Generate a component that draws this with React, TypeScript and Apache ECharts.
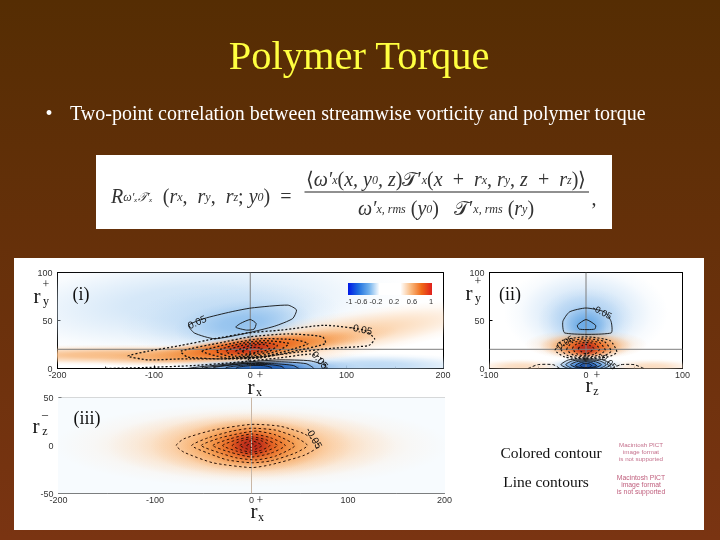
import React, { useEffect, useRef } from "react";
import * as echarts from "echarts";

type P = [number, number][];
// colour field: [centre x, centre y, half width, half height, tilt in degrees, colour]
type B = [number, number, number, number, number, string];

// ---- panel (i): r_x, r_y
const iBlueField: B[] = [
  [-60, 68, 230, 56, 3, "#cfe4f7"],
  [-20, 52, 115, 36, 5, "#bcd9f4"],
  [-8, 47, 72, 24, 6, "#93c2ee"],
  [125, 3, 125, 13, 0, "#bcd9f4"],
  [15, 1, 100, 11, 0, "#4f93de"],
  [12, 1, 55, 8, 0, "#1f5cb5"],
];
const iOrangeField: B[] = [
  [-120, 14, 230, 11, 0, "#f8b97f"],
  [95, 35, 170, 24, 9, "#fbd3ac"],
  [50, 27, 105, 14, 7, "#f8ad6c"],
  [-20, 19, 140, 12, 5, "#f59a4c"],
  [0, 22, 110, 13, 6, "#ef7c25"],
  [-2, 22, 72, 11, 6, "#e8591a"],
  [0, 21, 38, 9, 5, "#c4301a"],
];
const iSolid: P[] = [
  [[-64, 45], [-48, 52], [-20, 59], [1, 63], [39, 66], [48, 61], [44, 52], [25, 44], [-3, 37], [-37, 31], [-58, 37]],
  [[-15, 43], [-10, 47], [0, 51], [6, 47], [4, 41], [-4, 40]],
  [[-65, 0], [-30, 4], [0, 7], [30, 9], [62, 8], [78, 3], [78, -3], [-65, -3]],
  [[-52, 0], [-10, 5], [30, 7], [58, 5], [66, 0], [60, -3], [-52, -3]],
  [[-38, 1], [-5, 5], [25, 5], [45, 3], [52, -2], [-38, -2]],
  [[-25, 1], [-2, 4], [20, 4], [33, 2], [36, -2], [-25, -2]],
  [[-14, 1], [0, 3], [14, 3], [22, 1], [22, -2], [-14, -2]],
];
const iDashed: P[] = [
  [[-127, 13], [-106, 18], [-72, 24], [-37, 31], [-3, 37], [32, 40], [77, 45], [118, 40], [129, 31], [123, 24], [84, 21], [49, 17], [10, 12], [-30, 10], [-72, 10], [-106, 9]],
  [[-72, 18], [-30, 27], [0, 33], [40, 36], [75, 33], [78, 26], [50, 19], [10, 11], [-30, 10], [-65, 12]],
  [[-50, 18], [-20, 26], [10, 31], [45, 30], [60, 26], [40, 19], [10, 12], [-25, 11]],
  [[-35, 18], [-10, 26], [15, 29], [40, 26], [30, 19], [5, 12], [-20, 12]],
  [[-25, 18], [-5, 25], [15, 27], [28, 24], [20, 18], [2, 13], [-15, 13]],
  [[-15, 18], [0, 24], [15, 25], [20, 21], [8, 16], [-8, 14]],
  [[-8, 18], [2, 22], [12, 21], [6, 17], [-3, 15]],
];
const iDashedOpen: P[] = [
  [[-150, 0], [-110, 1], [-60, 3], [-20, 6], [30, 11], [62, 15], [72, 12], [78, 4], [80, 0]],
  [[-3, 4], [-2, 9], [-1, 14], [0, 18]],
];

// ---- panel (ii): r_z, r_y
const iiBlueField: B[] = [
  [0, 58, 85, 52, 0, "#c7dff6"],
  [0, 50, 50, 34, 0, "#a5cbf0"],
  [0, 45, 27, 22, 0, "#6aaae6"],
];
const iiOrangeField: B[] = [
  [-68, 2, 50, 8, 0, "#fbdcc0"],
  [68, 2, 50, 8, 0, "#fbdcc0"],
  [0, 25, 64, 16, 0, "#f9bd85"],
  [0, 23, 48, 14, 0, "#f28a34"],
  [0, 22, 32, 12, 0, "#e4521a"],
  [0, 21, 16, 9, 0, "#b92a1c"],
];
const iiLowerField: B[] = [
  [0, 3, 42, 9, 0, "#7db5ea"],
  [0, 3, 28, 8, 0, "#3f82d6"],
  [0, 2, 16, 6, 0, "#1a4fa5"],
];
const iiSolid: P[] = [
  [[0, 63], [19, 59], [26, 49], [26, 37], [-22, 37], [-24, 49], [-17, 59]],
  [[0, 51], [10, 45], [9, 41], [-7, 41], [-9, 45]],
  [[-26, 4], [-18, 9], [0, 10], [18, 9], [26, 4], [18, 0], [0, -1], [-18, 0]],
  [[-21, 4], [-14, 8], [0, 9], [14, 8], [21, 4], [14, 0], [0, -1], [-14, 0]],
  [[-16, 4], [-10, 7], [0, 8], [10, 7], [16, 4], [10, 1], [0, 0], [-10, 1]],
  [[-11, 3], [-6, 6], [0, 7], [6, 6], [11, 3], [6, 1], [0, 0], [-6, 1]],
  [[-6, 3], [-3, 5], [0, 5], [3, 5], [6, 3], [3, 1], [0, 1], [-3, 1]],
];
const iiDashed: P[] = [
  [[-32, 19], [-25, 29], [0, 33], [25, 29], [32, 17], [22, 12], [0, 10], [-22, 12]],
  [[-26, 20], [-19, 28], [0, 31], [19, 28], [26, 18], [18, 13], [0, 11], [-18, 13]],
  [[-20, 20], [-14, 27], [0, 29], [14, 27], [20, 19], [13, 14], [0, 12], [-13, 14]],
  [[-14, 21], [-9, 26], [0, 27], [9, 26], [14, 20], [9, 15], [0, 13], [-9, 15]],
  [[-8, 21], [-4, 24], [0, 25], [4, 24], [8, 21], [4, 17], [0, 15], [-4, 17]],
];
const iiDashedOpen: P[] = [
  [[-60, 0], [-50, 4], [-34, 4], [-27, 0]],
  [[27, 0], [36, 4], [50, 4], [60, 0]],
  [[-1, 8], [-1, 13], [0, 18]],
];

// ---- panel (iii): r_x, r_z
const iiiBack: P[] = [[[-215, -65], [215, -65], [215, 65], [-215, 65]]];
const iiiOrangeField: B[] = [
  [0, 0, 205, 44, 0, "#fde0c4"],
  [0, 0, 150, 38, 0, "#fbc896"],
  [0, 0, 105, 34, 0, "#f8a860"],
  [0, 0, 75, 28, 0, "#f08a30"],
  [0, 0, 48, 22, 0, "#e0501a"],
  [0, 0, 25, 16, 0, "#b92a1c"],
];
const iiiDashed: P[] = [
  [[-78, 0], [-70, 7], [-40, 16], [0, 22], [30, 20], [55, 12], [70, 0], [55, -10], [20, -20], [0, -23], [-40, -18], [-70, -7]],
  [[-62, 0], [-45, 8], [-20, 15], [0, 18], [25, 16], [45, 9], [58, 0], [45, -8], [20, -16], [0, -18], [-25, -15], [-45, -8]],
  [[-52, 0], [-32, 8], [-10, 13], [5, 15], [25, 11], [45, 0], [25, -11], [5, -15], [-15, -13], [-32, -8]],
  [[-40, 0], [-22, 7], [0, 12], [20, 8], [35, 0], [20, -8], [0, -12], [-22, -7]],
  [[-30, 0], [-15, 6], [0, 9], [15, 6], [27, 0], [15, -6], [0, -9], [-15, -6]],
  [[-20, 0], [-10, 5], [0, 7], [10, 5], [19, 0], [10, -5], [0, -7], [-10, -5]],
  [[-12, 0], [-6, 3], [0, 5], [6, 3], [11, 0], [6, -3], [0, -5], [-6, -3]],
  [[-5, 0], [0, 2], [5, 0], [0, -2]],
];

// ---- axes
const xTicksRange = [-200, 200];
const zTicksRange = [-100, 100];
const yRange = [0, 100];
const zRange = [-50, 50];
const iCross: P[] = [[[-200, 20], [200, 20]], [[0, 0], [0, 100]]];
const iiCross: P[] = [[[-100, 20], [100, 20]], [[0, 0], [0, 100]]];
const iiiCross: P[] = [[[0, -50], [0, 50]]];

// ---- colour bar + texts
const barStops = ["#0018e6", "#1e6fe0", "#6fb0ec", "#ffffff", "#ffffff", "#ffffff", "#f9b97f", "#f06a18", "#e0201c"];
const barLabels = ["-1", "-0.6", "-0.2", "0.2", "0.6", "1"];
const TITLE = "Polymer Torque";
const BULLET = "Two-point correlation between streamwise vorticity and polymer torque";
const LEGEND_A = "Colored contour";
const LEGEND_B = "Line contours";
const PICT = ["Macintosh PICT", "image format", "is not supported"];
const FALLOFF: [number, number][] = [[0, 1], [0.3, 0.85], [0.55, 0.5], [0.8, 0.14], [1, 0]];

const SERIF = '"Liberation Serif", serif';
const SANS = '"Liberation Sans", sans-serif';

type Sh =
  | { kind: "blob"; b: B }
  | { kind: "poly"; pts: P; fill?: string; stroke?: string; lw?: number; dash?: number[]; closed: boolean; smooth: number };
const blobs = (bs: B[]): Sh[] => bs.map((b) => ({ kind: "blob", b }));
const fills = (ps: P[], col: string): Sh[] => ps.map((pts) => ({ kind: "poly", pts, fill: col, closed: true, smooth: 0 }));
const lines = (ps: P[], dash: number[] | null, lw: number, closed: boolean, stroke = "#111"): Sh[] =>
  ps.map((pts) => ({ kind: "poly", pts, stroke, lw, dash: dash || undefined, closed, smooth: 0.2 }));
const straight = (ps: P[], stroke: string): Sh[] => ps.map((pts) => ({ kind: "poly", pts, stroke, lw: 1, closed: false, smooth: 0 }));

function shapeSeries(idx: number, shapes: Sh[]) {
  return {
    type: "custom",
    xAxisIndex: idx,
    yAxisIndex: idx,
    clip: true,
    silent: true,
    data: shapes.map((_, i) => [i]),
    renderItem: (params: any, api: any) => {
      const s = shapes[params.dataIndex];
      if (s.kind === "blob") {
        const [cx, cy, rx, ry, tilt, color] = s.b;
        const c = api.coord([cx, cy]);
        const sz = api.size([rx, ry]);
        return {
          type: "rect",
          x: c[0],
          y: c[1],
          rotation: (tilt * Math.PI) / 180,
          shape: { x: -sz[0], y: -sz[1], width: 2 * sz[0], height: 2 * sz[1] },
          style: {
            fill: {
              type: "radial",
              x: 0.5,
              y: 0.5,
              r: 0.5,
              colorStops: FALLOFF.map(([offset, a]) => ({ offset, color: echarts.color.modifyAlpha(color, a) })),
            },
          },
        };
      }
      return {
        type: s.closed ? "polygon" : "polyline",
        shape: { points: s.pts.map((p) => api.coord(p)), smooth: s.smooth },
        style: { fill: s.fill || "none", stroke: s.stroke || "none", lineWidth: s.lw || 0, lineDash: s.dash },
      };
    },
  };
}

const labelStyle = { show: true, fontFamily: SANS, fontSize: 9, color: "#333", hideOverlap: false, showMinLabel: true, showMaxLabel: true };

function xAxis(idx: number, range: number[]) {
  return {
    type: "value",
    gridIndex: idx,
    min: range[0],
    max: range[1],
    interval: 100,
    axisLine: { show: true, lineStyle: { color: "#000", width: 1 }, onZero: false },
    axisTick: { show: true, inside: true, length: 3, lineStyle: { color: "#000" } },
    minorTick: { show: true, splitNumber: 2, length: 2, lineStyle: { color: "#333" } },
    splitLine: { show: false },
    axisLabel: { ...labelStyle, margin: 2 },
  };
}
function yAxis(idx: number, range: number[]) {
  return {
    type: "value",
    gridIndex: idx,
    min: range[0],
    max: range[1],
    interval: 50,
    axisLine: { show: true, lineStyle: { color: "#000", width: 1 }, onZero: false },
    axisTick: { show: true, inside: true, length: 3, lineStyle: { color: "#000" } },
    minorTick: { show: false },
    splitLine: { show: false },
    axisLabel: { ...labelStyle, margin: 5 },
  };
}
const frame = (a: any, position: string, color = "#000") => ({
  ...a,
  position,
  axisLine: { show: true, lineStyle: { color, width: 1 }, onZero: false },
  axisLabel: { show: false },
  minorTick: { show: false },
  axisTick: { show: false },
});

const T = (text: string, x: number, y: number, fontSize: number, extra: any = {}, rot = 0) => ({
  type: "text",
  x,
  y,
  rotation: (rot * Math.PI) / 180,
  z: 20,
  silent: true,
  style: { text, fontFamily: SERIF, fontSize, fill: "#111", align: "center", verticalAlign: "middle", ...extra },
});

function axisSym(x: number, y: number, sup: string, sub: string, subDx = 9, supDx = 9, supDy = -12, subDy = 5) {
  return [T("r", x, y, 21), T(sup, x + supDx, y + supDy, 12), T(sub, x + subDx, y + subDy, 12)];
}

const richStyles = {
  it: { fontFamily: SERIF, fontStyle: "italic", fontSize: 20, fill: "#333", verticalAlign: "middle", height: 26 },
  n: { fontFamily: SERIF, fontSize: 20, fill: "#333", verticalAlign: "middle", height: 26 },
  sub: { fontFamily: SERIF, fontStyle: "italic", fontSize: 12, fill: "#333", verticalAlign: "bottom", height: 24 },
};
const LHS = "{it|R}{sub|ω′ₓ𝒯′ₓ}{n|  (}{it|r}{sub|x}{n|,  }{it|r}{sub|y}{n|,  }{it|r}{sub|z}{n|; }{it|y}{sub|0}{n|)  =}";
const NUM = "{n|⟨}{it|ω′}{sub|x}{n|(}{it|x, y}{sub|0}{it|, z}{n|)}{n|𝒯′}{sub|x}{n|(}{it|x}{n|  +  }{it|r}{sub|x}{n|, }{it|r}{sub|y}{n|, }{it|z}{n|  +  }{it|r}{sub|z}{n|)⟩}";
const DEN = "{it|ω′}{sub|x, rms}{n| (}{it|y}{sub|0}{n|)   }{n|𝒯′}{sub|x, rms}{n| (}{it|r}{sub|y}{n|)}";

export default function App() {
  const ref = useRef<HTMLDivElement>(null);
  useEffect(() => {
    const chart = echarts.init(ref.current!, null, { renderer: "svg" });
    const bgRects = [
      { type: "rect", shape: { x: 14, y: 258, width: 690, height: 272 }, style: { fill: "#ffffff" }, z: -10, silent: true },
      { type: "rect", shape: { x: 96, y: 155, width: 516, height: 74 }, style: { fill: "#ffffff" }, z: -10, silent: true },
      { type: "rect", shape: { x: 304.5, y: 191.5, width: 284.5, height: 1 }, style: { fill: "#222" }, z: 5, silent: true },
    ];
    const pictLines = PICT.flatMap((s, i) => [
      T(s, 641, 444 + i * 7, 6.2, { fontFamily: SANS, fill: "#c4708c" }),
      T(s, 641, 477 + i * 7, 6.8, { fontFamily: SANS, fill: "#c0607e" }),
    ]);
    const option: any = {
      animation: false,
      backgroundColor: {
        type: "linear", x: 0, y: 0, x2: 0, y2: 1,
        colorStops: [{ offset: 0, color: "#552d03" }, { offset: 1, color: "#7a3412" }],
      },
      grid: [
        { left: 57.5, top: 272.5, width: 385.5, height: 96, show: false },
        { left: 489.5, top: 272.5, width: 193, height: 96, show: false },
        { left: 58.5, top: 397.5, width: 386, height: 96, show: false },
      ],
      xAxis: [
        xAxis(0, xTicksRange), xAxis(1, zTicksRange), xAxis(2, xTicksRange),
        frame(xAxis(0, xTicksRange), "top"),
        frame(xAxis(1, zTicksRange), "top"),
        frame(xAxis(2, xTicksRange), "top", "#b5b5b5"),
      ],
      yAxis: [
        yAxis(0, yRange), yAxis(1, yRange), yAxis(2, zRange),
        frame(yAxis(0, yRange), "right"),
        frame(yAxis(1, yRange), "right"),
        frame(yAxis(2, zRange), "right", "#9a9a9a"),
      ],
      series: [
        shapeSeries(0, [
          ...blobs(iBlueField),
          ...blobs(iOrangeField),
          ...straight(iCross, "#7d7d7d"),
          ...lines(iSolid, null, 0.9, true),
          ...lines(iDashed, [2, 2], 1.3, true),
          ...lines(iDashedOpen, [2, 2], 1.3, false),
        ]),
        shapeSeries(1, [
          ...blobs(iiBlueField),
          ...blobs(iiOrangeField),
          ...blobs(iiLowerField),
          ...straight(iiCross, "#7d7d7d"),
          ...lines(iiSolid, null, 0.9, true),
          ...lines(iiDashed, [2, 2], 1.1, true),
          ...lines(iiDashedOpen, [3, 2], 1, false),
        ]),
        shapeSeries(2, [
          ...fills(iiiBack, "#f7fbfe"),
          ...blobs(iiiOrangeField),
          ...straight(iiiCross, "#c9b7a6"),
          ...lines(iiiDashed, [2.5, 2.5], 1, true, "#2a1208"),
        ]),
      ],
      graphic: {
        elements: [
          ...bgRects,
          T(TITLE, 359, 55, 40.5, { fill: "#ffff40" }),
          T("•", 49, 113, 20, { fill: "#ffffff" }),
          T(BULLET, 70, 113, 20, { fill: "#ffffff", align: "left" }),
          {
            type: "text", x: 111, y: 196, z: 20, silent: true,
            style: { rich: richStyles, text: LHS, align: "left", verticalAlign: "middle" },
          },
          {
            type: "text", x: 446, y: 179, z: 20, silent: true,
            style: { rich: richStyles, text: NUM, align: "center", verticalAlign: "middle" },
          },
          {
            type: "text", x: 446, y: 208, z: 20, silent: true,
            style: { rich: richStyles, text: DEN, align: "center", verticalAlign: "middle" },
          },
          T(",", 594, 198, 20, { fill: "#333" }),
          T("(i)", 81, 294, 18),
          T("(ii)", 510, 294, 18),
          T("(iii)", 87, 418, 18),
          ...axisSym(37, 296, "+", "y"),
          ...axisSym(469, 293, "+", "y"),
          ...axisSym(36, 426, "–", "z"),
          ...axisSym(251, 387, "+", "x", 8, 9, -12, 5),
          ...axisSym(589, 385, "+", "z", 7, 8, -10, 6),
          ...axisSym(254, 511, "+", "x", 7, 6, -11, 6),
          {
            type: "rect", z: 15, silent: true,
            shape: { x: 348, y: 283, width: 84, height: 12 },
            style: {
              fill: {
                type: "linear", x: 0, y: 0, x2: 1, y2: 0,
                colorStops: barStops.map((color, i) => ({ offset: i / (barStops.length - 1), color })),
              },
            },
          },
          ...barLabels.map((s, i) =>
            T(s, [349, 361, 376, 394, 412, 431][i], 301, 7.5, { fontFamily: SANS, fill: "#333" })
          ),
          T("0.05", 197, 322, 10, { fontFamily: SANS }, 25),
          T("-0.05", 361, 329, 10, { fontFamily: SANS }, -12),
          T("0.05", 320, 360, 10, { fontFamily: SANS }, -50),
          T("-0.05", 602, 312, 9, { fontFamily: SANS }, -28),
          T("-0.05", 564, 343, 9, { fontFamily: SANS }, 30),
          T("-0.05", 608, 361, 9, { fontFamily: SANS }, -45),
          T("-0.05", 314, 438, 10, { fontFamily: SANS }, -60),
          T(LEGEND_A, 551, 452, 15.5),
          T(LEGEND_B, 546, 481, 15.5),
          ...pictLines,
        ],
      },
    };
    chart.setOption(option);
    return () => chart.dispose();
  }, []);
  return <div ref={ref} style={{ position: "fixed", left: 0, top: 0, width: 720, height: 540, filter: "blur(0.35px)" }} />;
}
